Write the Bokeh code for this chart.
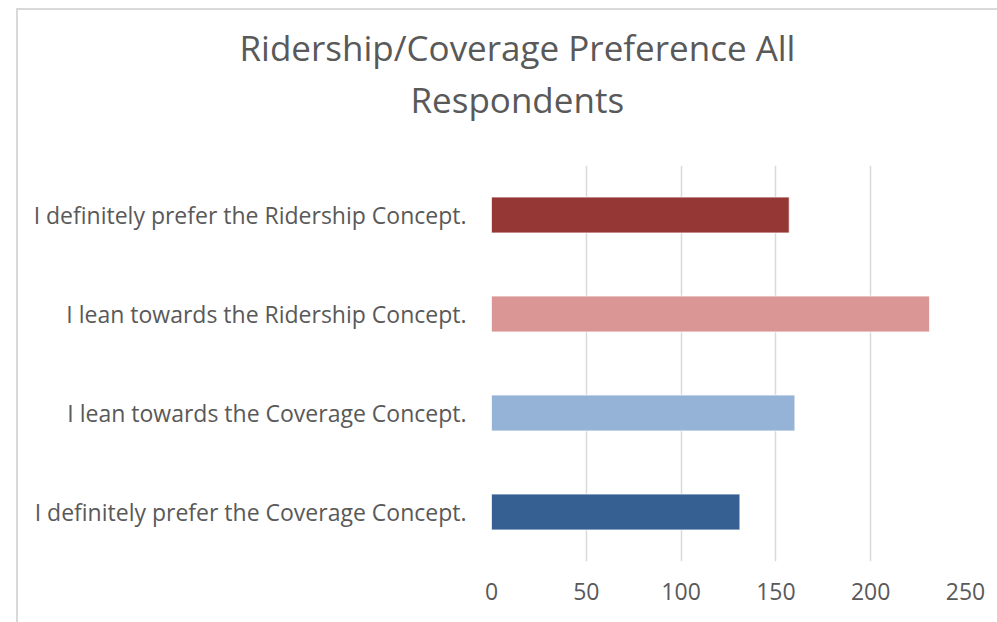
from bokeh.plotting import figure
from bokeh.models import FactorRange, Range1d, FixedTicker, ColumnDataSource, Title
from bokeh.embed import file_html
from bokeh.resources import INLINE

# ---- data ----
categories = [
    "I definitely prefer the Ridership Concept.",
    "I lean towards the Ridership Concept.",
    "I lean towards the Coverage Concept.",
    "I definitely prefer the Coverage Concept.",
]
counts = [157, 231, 160, 131]
colors = ["#953735", "#D99694", "#95B3D7", "#366092"]
x_ticks = [0, 50, 100, 150, 200, 250]
title_lines = ["Ridership/Coverage Preference All", "Respondents"]

FONT = "Open Sans"
TXT = "#595959"

src = ColumnDataSource(dict(cat=categories, val=counts, col=colors))

p = figure(
    width=981, height=614,
    y_range=FactorRange(factors=list(reversed(categories))),
    x_range=Range1d(0, 250),
    output_backend="svg", toolbar_location=None,
    min_border_left=473, min_border_right=34,
    min_border_top=155, min_border_bottom=63,
    margin=(8, 0, 0, 16),
)
p.styles = {"border-left": "2px solid #d9d9d9", "border-top": "2px solid #d9d9d9"}

p.hbar(y="cat", right="val", left=0, height=0.362, fill_color="col",
       line_color="#ffffff", line_alpha=0.7, line_width=1, source=src)

p.outline_line_color = None
p.background_fill_color = "white"
p.border_fill_color = "white"

# title: two lines, each placed so its centre sits near x=516
t2 = Title(text=title_lines[1], align="left", offset=-81, standoff=85,
           text_font=FONT, text_font_size="35px", text_font_style="normal",
           text_color=TXT)
t1 = Title(text=title_lines[0], align="left", offset=-252, standoff=-79,
           text_font=FONT, text_font_size="35px", text_font_style="normal",
           text_color=TXT)
p.add_layout(t2, "above")
p.add_layout(t1, "above")

# grids
p.ygrid.grid_line_color = None
p.xgrid.ticker = FixedTicker(ticks=x_ticks)
p.xgrid.grid_line_color = "#d9d9d9"
p.xgrid.grid_line_width = 1.5

# x axis
p.xaxis.ticker = FixedTicker(ticks=x_ticks)
p.xaxis.axis_line_color = None
p.xaxis.major_tick_line_color = None
p.xaxis.minor_tick_line_color = None
p.xaxis.major_tick_out = 0
p.xaxis.major_label_standoff = 21
p.xaxis.major_label_text_font = FONT
p.xaxis.major_label_text_font_size = "23px"
p.xaxis.major_label_text_color = TXT

# y axis
p.yaxis.axis_line_color = None
p.yaxis.major_tick_line_color = None
p.yaxis.minor_tick_line_color = None
p.yaxis.major_tick_out = 0
p.yaxis.major_label_standoff = 25
p.yaxis.major_label_text_font = FONT
p.yaxis.major_label_text_font_size = "23px"
p.yaxis.major_label_text_color = TXT

open("out.html", "w").write(file_html(p, INLINE))
